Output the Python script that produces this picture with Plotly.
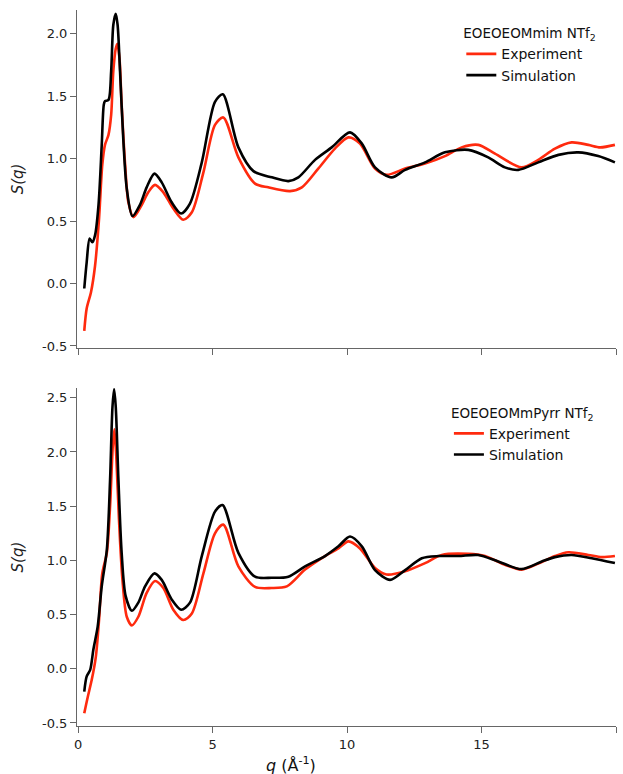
import plotly.graph_objects as go

# ---- Top panel: EOEOEOMmim NTf2 ----
top_sim_q = [0.23, 0.32, 0.43, 0.53, 0.63, 0.76, 0.88, 0.955, 1.0, 1.13, 1.23, 1.31, 1.40, 1.47, 1.56, 1.68,
             1.81, 2.02, 2.30, 2.55, 2.84, 3.11, 3.48, 3.83, 4.16, 4.60, 5.09, 5.38, 5.96, 6.52, 7.2, 7.82,
             8.19, 8.81, 9.43, 10.11, 10.55, 11.04, 11.66, 12.16, 12.9, 13.64, 14.51, 15.25, 15.87, 16.37,
             17.11, 17.86, 18.6, 19.34, 19.96]
top_sim_s = [-0.04, 0.17, 0.36, 0.33, 0.385, 0.63, 1.11, 1.43, 1.46, 1.47, 1.70, 2.07, 2.16, 2.07, 1.70, 1.16,
             0.76, 0.54, 0.63, 0.77, 0.88, 0.81, 0.65, 0.56, 0.64, 0.97, 1.455, 1.515, 1.09, 0.90, 0.85, 0.82,
             0.85, 0.99, 1.09, 1.21, 1.12, 0.93, 0.85, 0.91, 0.97, 1.05, 1.07, 1.01, 0.93, 0.91,
             0.97, 1.03, 1.05, 1.02, 0.97]
top_exp_q = [0.23, 0.32, 0.48, 0.63, 0.78, 0.90, 1.0, 1.13, 1.23, 1.31, 1.40, 1.46, 1.54, 1.62, 1.75, 1.87,
             2.06, 2.37, 2.61, 2.86, 3.17, 3.54, 3.91, 4.23, 4.66, 5.09, 5.40, 5.96, 6.58, 7.07, 7.88, 8.32,
             8.93, 9.55, 10.05, 10.48, 11.04, 11.47, 12.16, 12.9, 13.64, 14.26, 14.88, 15.5, 16.49, 17.11,
             17.73, 18.35, 18.97, 19.41, 19.96]
top_exp_s = [-0.38, -0.20, -0.07, 0.14, 0.52, 0.95, 1.11, 1.19, 1.35, 1.70, 1.88, 1.92, 1.80, 1.43, 0.95, 0.65,
             0.53, 0.63, 0.73, 0.79, 0.73, 0.60, 0.51, 0.57, 0.89, 1.27, 1.33, 1.01, 0.80, 0.77, 0.74, 0.77,
             0.92, 1.08, 1.17, 1.12, 0.92, 0.87, 0.92, 0.96, 1.02, 1.09, 1.11, 1.04, 0.93, 0.99,
             1.08, 1.13, 1.11, 1.09, 1.11]

# ---- Bottom panel: EOEOEOMmPyrr NTf2 ----
bot_sim_q = [0.23, 0.32, 0.45, 0.57, 0.73, 0.88, 1.07, 1.19, 1.28, 1.34, 1.40, 1.50, 1.62, 1.77, 2.0, 2.24,
             2.49, 2.84, 3.11, 3.48, 3.83, 4.16, 4.60, 5.09, 5.37, 5.96, 6.58, 7.2, 7.82, 8.44, 9.18, 9.68,
             10.11, 10.55, 11.04, 11.6, 12.16, 12.78, 13.4, 14.14, 14.88, 15.62, 16.49, 17.24, 17.73, 18.35,
             19.1, 19.96]
bot_sim_s = [-0.21, -0.07, -0.01, 0.18, 0.39, 0.76, 1.10, 1.745, 2.42, 2.58, 2.42, 1.745, 1.07, 0.67, 0.535, 0.61,
             0.76, 0.88, 0.82, 0.64, 0.545, 0.61, 1.04, 1.45, 1.51, 1.07, 0.85, 0.84, 0.85, 0.945, 1.04, 1.13,
             1.22, 1.13, 0.91, 0.82, 0.91, 1.02, 1.04, 1.04, 1.05, 0.99, 0.92, 0.99, 1.03, 1.05,
             1.02, 0.975]
bot_exp_q = [0.23, 0.36, 0.51, 0.66, 0.78, 0.90, 1.07, 1.19, 1.29, 1.35, 1.42, 1.52, 1.65, 1.81, 2.0, 2.24,
             2.55, 2.86, 3.17, 3.54, 3.91, 4.23, 4.66, 5.09, 5.40, 5.96, 6.58, 7.2, 7.76, 8.44, 9.18, 9.68,
             10.05, 10.48, 11.04, 11.47, 12.16, 12.9, 13.52, 14.51, 15.13, 15.87, 16.49, 17.11, 17.73, 18.23,
             18.97, 19.47, 19.96]
bot_exp_s = [-0.41, -0.26, -0.10, 0.11, 0.45, 0.88, 1.07, 1.50, 2.05, 2.21, 1.96, 1.38, 0.82, 0.48, 0.40, 0.48,
             0.70, 0.81, 0.745, 0.545, 0.45, 0.51, 0.88, 1.25, 1.33, 0.945, 0.755, 0.745, 0.76, 0.915, 1.04, 1.11,
             1.175, 1.11, 0.93, 0.87, 0.90, 0.975, 1.05, 1.06, 1.04, 0.96, 0.915, 0.97, 1.04, 1.075,
             1.05, 1.03, 1.04]

x_ticks = [0, 5, 10, 15, 20]
top_y_ticks = [-0.5, 0.0, 0.5, 1.0, 1.5, 2.0]
bot_y_ticks = [-0.5, 0.0, 0.5, 1.0, 1.5, 2.0, 2.5]

RED = "#ff2a0e"
BLACK = "#000000"
FONT = "DejaVu Sans"

fig = go.Figure()
fig.add_trace(go.Scatter(x=top_exp_q, y=top_exp_s, mode="lines", name="Experiment",
                         line=dict(color=RED, width=2.6, shape="spline", smoothing=0.8),
                         xaxis="x", yaxis="y", legend="legend"))
fig.add_trace(go.Scatter(x=top_sim_q, y=top_sim_s, mode="lines", name="Simulation",
                         line=dict(color=BLACK, width=2.6, shape="spline", smoothing=0.8),
                         xaxis="x", yaxis="y", legend="legend"))
fig.add_trace(go.Scatter(x=bot_exp_q, y=bot_exp_s, mode="lines", name="Experiment",
                         line=dict(color=RED, width=2.6, shape="spline", smoothing=0.8),
                         xaxis="x2", yaxis="y2", legend="legend2"))
fig.add_trace(go.Scatter(x=bot_sim_q, y=bot_sim_s, mode="lines", name="Simulation",
                         line=dict(color=BLACK, width=2.6, shape="spline", smoothing=0.8),
                         xaxis="x2", yaxis="y2", legend="legend2"))

axis_common = dict(showline=True, linecolor="#666666", linewidth=1, showgrid=False, zeroline=False,
                   ticks="outside", ticklen=6, tickcolor="#666666", tickwidth=1,
                   tickfont=dict(family=FONT, size=13, color="#222222"))

fig.update_layout(
    width=623, height=774,
    margin=dict(l=77, r=7, t=10, b=48),
    paper_bgcolor="white", plot_bgcolor="white",
    font=dict(family=FONT, size=13, color="#111111"),
    xaxis=dict(domain=[0, 1], range=[-0.04, 20], tickvals=x_ticks, showticklabels=False,
               anchor="y", **axis_common),
    yaxis=dict(domain=[0.528, 1], range=[-0.516, 2.19], tickvals=top_y_ticks,
               ticktext=[f"{v:.1f}" for v in top_y_ticks], anchor="x",
               title=dict(text="<i>S(q)</i>", font=dict(family=FONT, size=15, color="#222222"), standoff=14),
               **axis_common),
    xaxis2=dict(domain=[0, 1], range=[-0.04, 20], tickvals=x_ticks, ticktext=[str(v) for v in x_ticks],
                anchor="y2", **axis_common),
    yaxis2=dict(domain=[0, 0.472], range=[-0.528, 2.59], tickvals=bot_y_ticks,
                ticktext=[f"{v:.1f}" for v in bot_y_ticks], anchor="x2",
                title=dict(text="<i>S(q)</i>", font=dict(family=FONT, size=15, color="#222222"), standoff=14),
                **axis_common),
    legend=dict(x=0.713, y=0.985, xanchor="left", yanchor="top", bgcolor="rgba(0,0,0,0)",
                title=dict(text="EOEOEOMmim NTf<sub>2</sub>", side="top", font=dict(family=FONT, size=13.5)),
                font=dict(family=FONT, size=14), tracegroupgap=0, itemwidth=30),
    legend2=dict(x=0.69, y=0.455, xanchor="left", yanchor="top", bgcolor="rgba(0,0,0,0)",
                 title=dict(text="EOEOEOMmPyrr NTf<sub>2</sub>", side="top", font=dict(family=FONT, size=13.5)),
                 font=dict(family=FONT, size=14), tracegroupgap=0, itemwidth=30),
    annotations=[dict(text="<i>q</i> (Å<sup>-1</sup>)", xref="paper", yref="paper", x=0.397, y=-0.036,
                      xanchor="center", yanchor="top", showarrow=False,
                      font=dict(family=FONT, size=16, color="#111111"))],
)

fig.write_html("out.html")
